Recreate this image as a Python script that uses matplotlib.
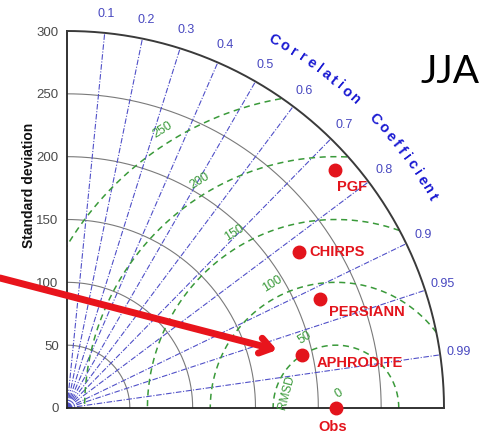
import numpy as np
import matplotlib
matplotlib.use("Agg")
import matplotlib.pyplot as plt

# ---------------- data ----------------
names = ["PGF", "CHIRPS", "PERSIANN", "APHRODITE"]
std_vals = [285, 222, 219, 192]
corr_vals = [0.748, 0.830, 0.918, 0.976]
obs_std = 214
obs_name = "Obs"

std_ticks = [0, 50, 100, 150, 200, 250, 300]
std_arcs = [50, 100, 150, 200, 250]
corr_ticks = [0.1, 0.2, 0.3, 0.4, 0.5, 0.6, 0.7, 0.8, 0.9, 0.95, 0.99]
rms_levels = [50, 100, 150, 200, 250]
rms_labels = [0, 50, 100, 150, 200, 250]
season = "JJA"

# ---------------- style ----------------
plt.rcParams["font.family"] = ["Liberation Sans", "DejaVu Sans"]
W, H = 481, 434
fig = plt.figure(figsize=(W / 100, H / 100), dpi=100)
ox, oy, L = 67, 408, 377
ax = fig.add_axes([ox / W, (H - oy) / H, L / W, L / H])
RMAX = 300
ax.set_xlim(0, RMAX)
ax.set_ylim(0, RMAX)

for s in ["top", "right"]:
    ax.spines[s].set_visible(False)
for s in ["left", "bottom"]:
    ax.spines[s].set_color("#222222")
    ax.spines[s].set_linewidth(1.3)
ax.set_xticks([])
ax.set_yticks(std_ticks)
ax.set_yticklabels([str(t) for t in std_ticks])
ax.tick_params(axis="y", length=0, pad=6, labelsize=9.5, labelcolor="#4a4a4a")

th = np.linspace(0, np.pi / 2, 300)
# std arcs
for r in std_arcs:
    ax.plot(r * np.cos(th), r * np.sin(th), color="#7a7a7a", lw=0.8, zorder=1)
ax.plot(RMAX * np.cos(th), RMAX * np.sin(th), color="#3a3a3a", lw=1.4, zorder=3, clip_on=False)

# correlation lines & labels
blue = "#5050c8"
for c in corr_ticks:
    a = np.arccos(c)
    ax.plot([0, RMAX * np.cos(a)], [0, RMAX * np.sin(a)], color=blue,
            lw=0.8, ls=(0, (5, 1.5, 1, 1.5)), zorder=2)
    ax.text(315 * np.cos(a), 315 * np.sin(a), f"{c:g}", color="#4848c0",
            fontsize=9, ha="center", va="center", clip_on=False)

# RMSD circles
green = "#3a9a3a"
ph = np.linspace(0, np.pi, 600)
for r in rms_levels:
    x = obs_std + r * np.cos(ph)
    y = r * np.sin(ph)
    m = np.hypot(x, y) > RMAX
    x = np.where(m, np.nan, x)
    ax.plot(x, y, color=green, lw=1.1, ls=(0, (4, 3)), zorder=2)

label_ang = {0: 80, 50: 114, 100: 117, 150: 120, 200: 121, 250: 122}
for r in rms_labels:
    a = np.deg2rad(label_ang[r])
    rr = r + 11 if r > 0 else 12
    ax.text(obs_std + rr * np.cos(a), rr * np.sin(a), str(r), color=green,
            fontsize=9, rotation=32, ha="center", va="center", zorder=4)
ax.text(175, 12, "RMSD", color=green, fontsize=8.5, rotation=75,
        ha="center", va="center", zorder=4)

# "Correlation Coefficient" curved text
title = "Correlation Coefficient"
wts = []
for ch in title:
    if ch == " ":
        wts.append(1.6)
    elif ch in "lit":
        wts.append(0.75)
    elif ch == "f":
        wts.append(0.8)
    elif ch.isupper():
        wts.append(1.25)
    else:
        wts.append(1.0)
wts = np.array(wts)
cum = np.cumsum(wts) - wts / 2
cum = (cum - cum[0]) / (cum[-1] - cum[0])
a0, a1, rt = 60.6, 30.0, 336
angs = a0 + (a1 - a0) * cum
for ch, a in zip(title, angs):
    ar = np.deg2rad(a)
    ax.text(rt * np.cos(ar), rt * np.sin(ar), ch, color="#1a1ad2", fontsize=10.5,
            fontweight="bold", rotation=a - 90, ha="center", va="center",
            rotation_mode="anchor", clip_on=False)

# points
red = "#e3141c"
offsets = {"PGF": (2, -17, "left"), "CHIRPS": (11, 0, "left"),
           "PERSIANN": (9, -13, "left"), "APHRODITE": (14, -8, "left")}
for n, s, c in zip(names, std_vals, corr_vals):
    a = np.arccos(c)
    x, y = s * np.cos(a), s * np.sin(a)
    ax.plot([x], [y], "o", color=red, ms=9, zorder=6, clip_on=False)
    dx, dy, ha = offsets[n]
    ax.annotate(n, (x, y), xytext=(dx * 0.72, dy * 0.72), textcoords="offset points",
                color=red, fontsize=10.5, fontweight="bold", ha=ha, va="center",
                annotation_clip=False, zorder=6)
ax.plot([obs_std], [0], "o", color=red, ms=9, zorder=6, clip_on=False)
ax.annotate(obs_name, (obs_std, 0), xytext=(-2, -14), textcoords="offset points",
            color=red, fontsize=10.5, fontweight="bold", ha="center", va="center",
            annotation_clip=False)

# axis label
fig.text(29 / W, 1 - 185 / H, "Standard deviation", rotation=90, fontsize=10,
         fontweight="bold", ha="center", va="center", color="#111111")

# season label
fig.text(450 / W, 1 - 72 / H, season, fontsize=28, family=["Lato", "DejaVu Sans"],
         ha="center", va="center", color="black")

# red arrow
ax.annotate("", xy=(277, H - 350), xycoords="figure pixels",
            xytext=(0, H - 278), textcoords="figure pixels",
            arrowprops=dict(arrowstyle="->,head_length=0.8,head_width=0.55",
                            color="#e8141c", lw=5, shrinkA=0, shrinkB=0),
            annotation_clip=False, zorder=10)

fig.savefig("out.png", dpi=100)
